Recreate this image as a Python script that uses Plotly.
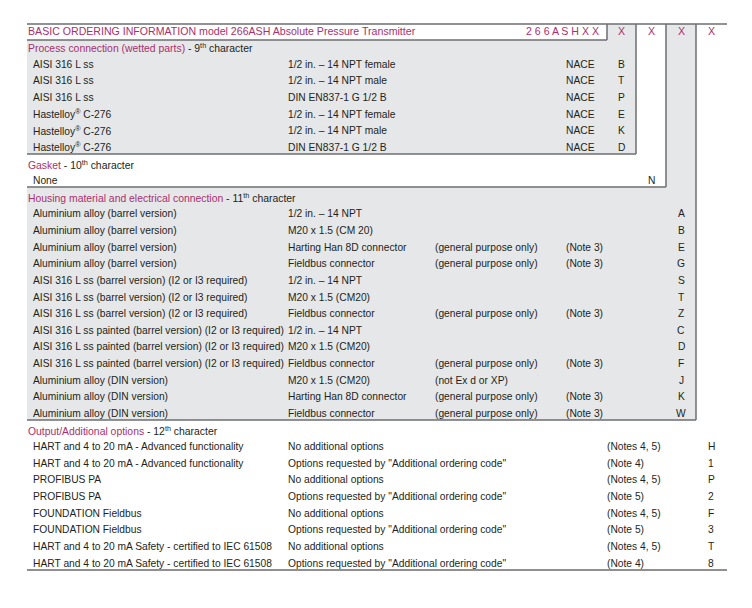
import plotly.graph_objects as go

# ---------------- data ----------------
title_text = "BASIC ORDERING INFORMATION model 266ASH Absolute Pressure Transmitter"
base_code = "2 6 6 A S H X X"
code_slots = ["X", "X", "X", "X"]

sec_titles = ["Process connection (wetted parts)", "Gasket",
              "Housing material and electrical connection", "Output/Additional options"]
sec_chars = ["9", "10", "11", "12"]

proc_material = ["AISI 316 L ss", "AISI 316 L ss", "AISI 316 L ss",
                 "Hastelloy<sup>®</sup> C-276", "Hastelloy<sup>®</sup> C-276", "Hastelloy<sup>®</sup> C-276"]
proc_conn = ["1/2 in. – 14 NPT female", "1/2 in. – 14 NPT male", "DIN EN837-1 G 1/2 B",
             "1/2 in. – 14 NPT female", "1/2 in. – 14 NPT male", "DIN EN837-1 G 1/2 B"]
proc_cert = ["NACE", "NACE", "NACE", "NACE", "NACE", "NACE"]
proc_code = ["B", "T", "P", "E", "K", "D"]

gasket_item = ["None"]
gasket_code = ["N"]

hous_material = ["Aluminium alloy (barrel version)", "Aluminium alloy (barrel version)",
                 "Aluminium alloy (barrel version)", "Aluminium alloy (barrel version)",
                 "AISI 316 L ss (barrel version) (I2 or I3 required)",
                 "AISI 316 L ss (barrel version) (I2 or I3 required)",
                 "AISI 316 L ss (barrel version) (I2 or I3 required)",
                 "AISI 316 L ss painted (barrel version) (I2 or I3 required)",
                 "AISI 316 L ss painted (barrel version) (I2 or I3 required)",
                 "AISI 316 L ss painted (barrel version) (I2 or I3 required)",
                 "Aluminium alloy (DIN version)", "Aluminium alloy (DIN version)",
                 "Aluminium alloy (DIN version)"]
hous_conn = ["1/2 in. – 14 NPT", "M20 x 1.5 (CM 20)", "Harting Han 8D connector", "Fieldbus connector",
             "1/2 in. – 14 NPT", "M20 x 1.5 (CM20)", "Fieldbus connector",
             "1/2 in. – 14 NPT", "M20 x 1.5 (CM20)", "Fieldbus connector",
             "M20 x 1.5 (CM20)", "Harting Han 8D connector", "Fieldbus connector"]
hous_use = ["", "", "(general purpose only)", "(general purpose only)", "", "",
            "(general purpose only)", "", "", "(general purpose only)",
            "(not Ex d or XP)", "(general purpose only)", "(general purpose only)"]
hous_note = ["", "", "(Note 3)", "(Note 3)", "", "", "(Note 3)", "", "", "(Note 3)",
             "", "(Note 3)", "(Note 3)"]
hous_code = ["A", "B", "E", "G", "S", "T", "Z", "C", "D", "F", "J", "K", "W"]

out_name = ["HART and 4 to 20 mA - Advanced functionality", "HART and 4 to 20 mA - Advanced functionality",
            "PROFIBUS PA", "PROFIBUS PA", "FOUNDATION Fieldbus", "FOUNDATION Fieldbus",
            "HART and 4 to 20 mA Safety - certified to IEC 61508",
            "HART and 4 to 20 mA Safety - certified to IEC 61508"]
out_opt = ["No additional options", "Options requested by \"Additional ordering code\"",
           "No additional options", "Options requested by \"Additional ordering code\"",
           "No additional options", "Options requested by \"Additional ordering code\"",
           "No additional options", "Options requested by \"Additional ordering code\""]
out_note = ["(Notes 4, 5)", "(Note 4)", "(Notes 4, 5)", "(Note 5)", "(Notes 4, 5)", "(Note 5)",
            "(Notes 4, 5)", "(Note 4)"]
out_code = ["H", "1", "P", "2", "F", "3", "T", "8"]

# ---------------- style ----------------
W, H = 752, 608
OFF = 8  # page body margin: screen pixel = axis unit
MAG = "#aa2f6e"
TXT = "#231f20"
GRAY = "#e6e7e8"
EDGE = "#6d6e71"
FONT = "Liberation Sans, Arial, Helvetica, sans-serif"
FS = 10.25
FS_T = 10.6

ROW0, DY = 31.0, 16.625
X_HDR, X_ITEM, X_C2, X_C3, X_C4, X_ONOTE = 28, 33, 288, 435, 566, 607
X_CODES = [621.5, 651, 681, 711]

ann = []


def txt(x, row, s, color=TXT, anchor="left", size=FS):
    if not s:
        return
    ann.append(dict(x=x, y=ROW0 + DY * row, xref="x", yref="y", text=s, showarrow=False,
                    xanchor=anchor, yanchor="middle", borderpad=0, borderwidth=0,
                    font=dict(family=FONT, size=size, color=color)))


def sec_header(row, i):
    s = (f"<span style='color:{MAG}'>{sec_titles[i]}</span>"
         f" - {sec_chars[i]}<sup>th</sup> character")
    txt(X_HDR, row, s, size=10.4)


# title row
txt(X_HDR, 0, title_text, MAG, size=FS_T)
txt(599, 0, base_code, MAG, "right", size=FS_T)
for xc, c in zip(X_CODES, code_slots):
    txt(xc, 0, c, MAG, "center", size=FS_T)

r = 1
sec_header(r, 0); r += 1
for m, c, n, k in zip(proc_material, proc_conn, proc_cert, proc_code):
    txt(X_ITEM, r, m); txt(X_C2, r, c); txt(X_C4, r, n); txt(X_CODES[0], r, k, anchor="center")
    r += 1
sec_header(r, 1); r += 1
for m, k in zip(gasket_item, gasket_code):
    txt(X_ITEM, r, m); txt(X_CODES[1], r, k, anchor="center")
    r += 1
sec_header(r, 2); r += 1
for m, c, u, n, k in zip(hous_material, hous_conn, hous_use, hous_note, hous_code):
    txt(X_ITEM, r, m); txt(X_C2, r, c); txt(X_C3, r, u); txt(X_C4, r, n)
    txt(X_CODES[2], r, k, anchor="center")
    r += 1
sec_header(r, 3); r += 1
for m, c, n, k in zip(out_name, out_opt, out_note, out_code):
    txt(X_ITEM, r, m); txt(X_C2, r, c); txt(X_ONOTE, r, n)
    txt(X_CODES[3], r, k, anchor="center")
    r += 1

# ---------------- frame shapes ----------------
shapes = []


def rect(x0, y0, x1, y1, fill):
    shapes.append(dict(type="rect", xref="x", yref="y", x0=x0, y0=y0, x1=x1, y1=y1,
                       fillcolor=fill, line=dict(width=0), layer="below"))


def line(x0, y0, x1, y1, color=EDGE, w=1.5):
    shapes.append(dict(type="line", xref="x", yref="y", x0=x0, y0=y0, x1=x1, y1=y1,
                       line=dict(color=color, width=w), layer="below"))


TOP, LEFT = 24, 27
boxes = [(696, 420, GRAY), (666, 187, "white"), (636, 154, GRAY), (607, 40, "white")]
for xr, yb, fill in boxes:
    rect(LEFT, TOP, xr, yb, fill)
for xr, yb, fill in boxes:
    line(xr, TOP, xr, yb)
    line(LEFT, yb, xr, yb)
line(LEFT, TOP, 727, TOP)
line(LEFT, 570, 727, 570, TXT, 1)

fig = go.Figure()
fig.add_trace(go.Scatter(x=[OFF, W], y=[OFF, H], mode="markers", marker=dict(opacity=0),
                         hoverinfo="skip", showlegend=False))
fig.update_layout(width=W - OFF, height=H - OFF, margin=dict(l=0, r=0, t=0, b=0),
                  paper_bgcolor="white", plot_bgcolor="white",
                  xaxis=dict(range=[OFF, W], visible=False, fixedrange=True),
                  yaxis=dict(range=[H, OFF], visible=False, fixedrange=True),
                  annotations=ann, shapes=shapes, showlegend=False)
fig.write_html("out.html", config={"displayModeBar": False})
